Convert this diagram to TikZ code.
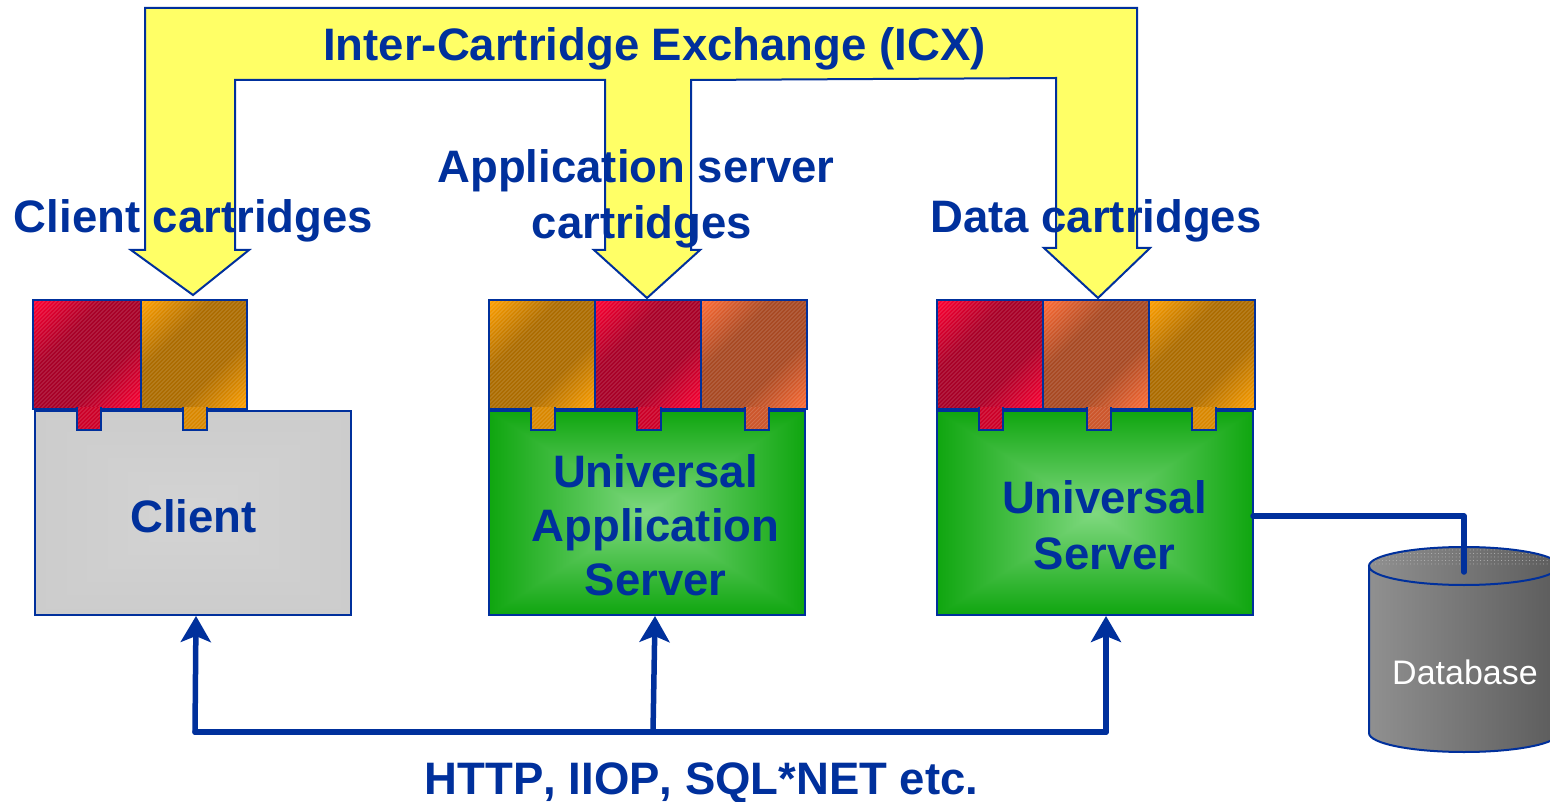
\documentclass[tikz,border=0pt]{standalone}
\usepackage{fontspec}
\setmainfont{Liberation Sans}
\usetikzlibrary{positioning}
\usetikzlibrary{calc}
\usetikzlibrary{arrows.meta}
\usetikzlibrary{patterns.meta}
\definecolor{inkblue}{HTML}{00309C}
\definecolor{arrowyellow}{HTML}{FFFF66}
\definecolor{redhi}{HTML}{FF0033}
\definecolor{redlo}{HTML}{A80028}
\definecolor{orangehi}{HTML}{FFA000}
\definecolor{orangelo}{HTML}{AC6C00}
\definecolor{coralhi}{HTML}{FF6C36}
\definecolor{corallo}{HTML}{A84A24}
\definecolor{dblight}{HTML}{909090}
\definecolor{dbdark}{HTML}{5C5C5C}
\pgfdeclarefunctionalshading{greenbox}{\pgfpoint{-50bp}{-50bp}}{\pgfpoint{50bp}{50bp}}{}{
	abs 25 div exch abs 25 div 2 copy lt {exch} if pop
	dup dup -0.44 mul 0.50 add 3 1 roll -0.20 mul 0.85 add exch -0.44 mul 0.50 add
}
\pgfdeclarefunctionalshading{greybox}{\pgfpoint{-50bp}{-50bp}}{\pgfpoint{50bp}{50bp}}{}{
	abs 25 div exch abs 25 div 2 copy lt {exch} if pop
	-0.03 mul 0.83 add dup dup
}
\pgfdeclareverticalshading{redcart}{100bp}{color(0bp)=(redhi); color(15bp)=(redhi); color(38bp)=(redlo); color(62bp)=(redlo); color(85bp)=(redhi); color(100bp)=(redhi)}
\pgfdeclareverticalshading{orangecart}{100bp}{color(0bp)=(orangehi); color(15bp)=(orangehi); color(38bp)=(orangelo); color(62bp)=(orangelo); color(85bp)=(orangehi); color(100bp)=(orangehi)}
\pgfdeclareverticalshading{coralcart}{100bp}{color(0bp)=(coralhi); color(15bp)=(coralhi); color(38bp)=(corallo); color(62bp)=(corallo); color(85bp)=(coralhi); color(100bp)=(coralhi)}
\newcommand{\hatchlines}{\foreach \d in {-116,-112,...,116} \draw[white,opacity=.15,line width=1pt] ($(path picture bounding box.center)+(\d-60,60)$) -- ($(path picture bounding box.center)+(\d+60,-60)$);}
\tikzset{
	boxnode/.style={draw=inkblue,line width=2pt,minimum width=316pt,minimum height=204pt,inner sep=0pt,outer sep=0pt,anchor=north west},
	cartnode/.style={draw=inkblue,line width=2pt,minimum width=106pt,minimum height=109pt,inner sep=0pt,outer sep=0pt,path picture={\hatchlines}},
	cartred/.style={cartnode,shading=redcart,shading angle=45},
	cartorange/.style={cartnode,shading=orangecart,shading angle=45},
	cartcoral/.style={cartnode,shading=coralcart,shading angle=45},
	tabnode/.style={minimum width=24pt,minimum height=23pt,inner sep=0pt,outer sep=0pt,path picture={\hatchlines}},
	tabedge/.style={draw=inkblue,line width=2pt,line join=miter},
	bigtext/.style={text=inkblue,font=\fontsize{45.5pt}{54pt}\selectfont\bfseries,align=center,inner sep=0pt},
	busline/.style={draw=inkblue,line width=5.5pt,line join=round,line cap=round},
	bustip/.style={-{Stealth[length=26pt,width=30pt,inset=6pt]}}
}
\begin{document}
\begin{tikzpicture}[x=1pt,y=-1pt]
	\clip (0,0) rectangle (1550,802);
	
	\fill[white] (0,0) rectangle (1550,802);
	\draw[fill=arrowyellow,draw=inkblue,line width=2pt,line join=miter] (145,8) -- (1137,8) -- (1137,248) -- (1150,248) -- (1098,298) -- (1044,248) -- (1056,248) -- (1056,78) -- (691,80) -- (691,250) -- (700,250) -- (647,298) -- (594,250) -- (605,250) -- (605,80) -- (235,80) -- (235,250) -- (249,250) -- (193,295) -- (131,250) -- (145,250) -- cycle;
	
	\node [boxnode,shading=greybox] at (35,411) (client) {};
	\node [boxnode,shading=greenbox] at (489,411) (appserver) {};
	\node [boxnode,shading=greenbox] at (937,411) (dataserver) {};
	
	\node [cartred,minimum width=108pt,anchor=north west] at (33,300) (1red) {}; \node [cartorange,right=0pt of 1red] (1orange) {};
	\node [cartorange,anchor=north west] at (489,300) (2orange) {}; \node [cartred,right=0pt of 2orange] (2red) {}; \node [cartcoral,right=0pt of 2red] (2coral) {};
	\node [cartred,anchor=north west] at (937,300) (3red) {}; \node [cartcoral,right=0pt of 3red] (3coral) {}; \node [cartorange,right=0pt of 3coral] (3orange) {};
	
	\node [tabnode,fill=redhi!80!black,below=-2pt of 1red,xshift=2pt] (1redtab) {};
	\node [tabnode,fill=orangehi!85!black,below=-2pt of 1orange,xshift=1pt] (1orangetab) {};
	\node [tabnode,fill=orangehi!85!black,below=-2pt of 2orange,xshift=1pt] (2orangetab) {};
	\node [tabnode,fill=redhi!80!black,below=-2pt of 2red,xshift=1pt] (2redtab) {};
	\node [tabnode,fill=coralhi!80!black,below=-2pt of 2coral,xshift=2.5pt] (2coraltab) {};
	\node [tabnode,fill=redhi!80!black,below=-2pt of 3red,xshift=1pt] (3redtab) {};
	\node [tabnode,fill=coralhi!80!black,below=-2pt of 3coral,xshift=2.5pt] (3coraltab) {};
	\node [tabnode,fill=orangehi!85!black,below=-2pt of 3orange,xshift=2pt] (3orangetab) {};
	\foreach \t in {1redtab,1orangetab,2orangetab,2redtab,2coraltab,3redtab,3coraltab,3orangetab}
		\draw[tabedge] (\t.north west) -- (\t.south west) -- (\t.south east) -- (\t.north east);
	
	% the drum, cut off by the right margin
	\coordinate (dbtop) at (1464,572);
	\path[left color=dblight,right color=dbdark] (1369,566) -- (1369,733) arc[start angle=180,end angle=360,x radius=95,y radius=-19] -- (1559,566) arc[start angle=0,end angle=180,x radius=95,y radius=-19] -- cycle;
	\path[pattern={Dots[distance=3.5pt,radius=.5pt]},pattern color=white!72!black] (1369,566) arc[start angle=180,end angle=360,x radius=95,y radius=19] -- cycle;
	\draw[draw=inkblue,line width=2pt] (1369,566) -- (1369,733) arc[start angle=180,end angle=360,x radius=95,y radius=-19] -- (1559,566);
	\draw[draw=inkblue,line width=2pt] (1464,566) ellipse[x radius=95,y radius=19];
	\draw[busline] ([yshift=-3pt]dataserver.east) -| (dbtop);
	\node [text=white,font=\fontsize{34pt}{40pt}\selectfont,inner sep=0pt] at (1465,672) (dbname) {Database};
	
	\coordinate (busleft) at (195,732);
	\coordinate (busmid) at (653,732);
	\coordinate (busright) at (1106,732);
	\draw[busline] (busleft) -- (busright);
	\draw[busline,bustip] (busleft) -- ([xshift=3pt,yshift=-1pt]client.south);
	\draw[busline,bustip] (busmid) -- ([xshift=8pt,yshift=-1pt]appserver.south);
	\draw[busline,bustip] (busright) -- ([xshift=11pt,yshift=-1pt]dataserver.south);
	
	\node [bigtext] at (654.5,49) (icx) {Inter-Cartridge Exchange (ICX)};
	\node [bigtext] at (193.5,220.5) (clientcarts) {Client cartridges};
	\node [bigtext] at (636,199) (appcarts) {Application server\\[2pt]\hspace*{12pt}cartridges};
	\node [bigtext] at (1096,220.5) (datacarts) {Data cartridges};
	\node [bigtext] at (193.5,516) (clientname) {Client};
	\node [bigtext] at (655.5,525.5) (appname) {Universal\\Application\\Server};
	\node [bigtext] at (1104.5,525) (dataname) {Universal\\[2pt]Server};
	\node [bigtext] at (701.5,783) (protocols) {\addfontfeatures{Kerning=Off}HTTP, IIOP, SQL*NET etc.};
\end{tikzpicture}
\end{document}
